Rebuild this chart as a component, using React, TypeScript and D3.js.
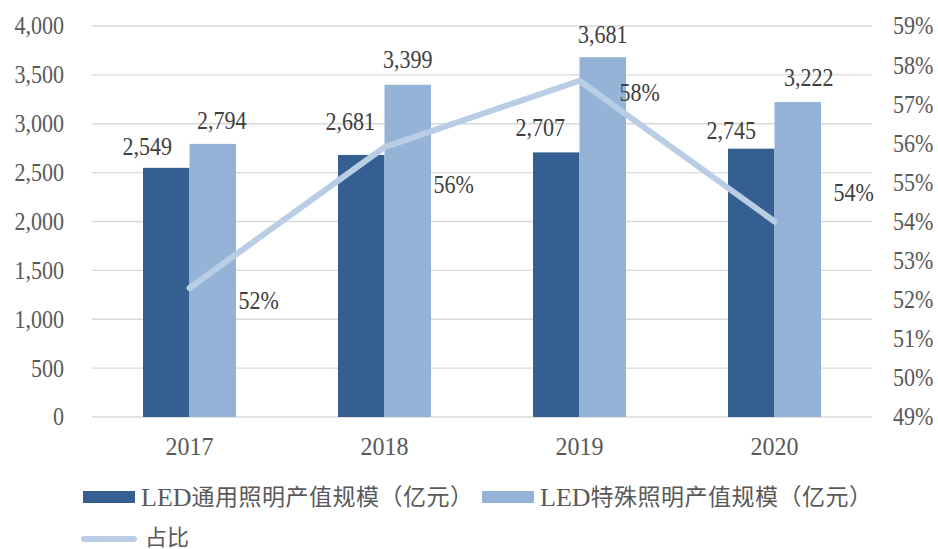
import React from 'react';
import * as d3 from 'd3';

const years = ['2017', '2018', '2019', '2020'];
const generalValues = [2549, 2681, 2707, 2745];
const specialValues = [2794, 3399, 3681, 3222];
const shareValues = [52.3, 55.9, 57.6, 54.0];
const shareLabels = ['52%', '56%', '58%', '54%'];
const leftTicks = [0, 500, 1000, 1500, 2000, 2500, 3000, 3500, 4000];
const rightTicks = [49, 50, 51, 52, 53, 54, 55, 56, 57, 58, 59];
const seriesPrefix = ['LED', 'LED', ''];
const seriesNames = ['通用照明产值规模（亿元）', '特殊照明产值规模（亿元）', '占比'];

// label placement nudges (style, px)
const darkLabelDx = [-19, -11, -16, -20];
const darkLabelUp = [21, 33, 25, 18];
const lightLabelDx = [9, 0, 0, 11];
const lightLabelUp = [23, 25, 23, 24];
const pctLabelDx = [49, 49, 40, 59];
const pctLabelDy = [13, 37, 12, -29];

const W = 938;
const H = 549;
const DARK = '#365f91';
const LIGHT = '#95b3d7';
const LINE = '#b9cde5';
const AXIS_TEXT = '#595959';
const LABEL_TEXT = '#404040';
const FONT = '"Liberation Serif", "Times New Roman", "Noto Sans CJK SC", serif';
const NUM_SIZE = 24.5;
const NUM_SX = 0.9;

type TProps = {
  x: number;
  y: number;
  anchor?: 'start' | 'middle' | 'end';
  sx?: number;
  size?: number;
  fill?: string;
  children: React.ReactNode;
};

function T({ x, y, anchor = 'start', sx = NUM_SX, size = NUM_SIZE, fill = AXIS_TEXT, children }: TProps) {
  return (
    <text
      transform={`translate(${x},${y}) scale(${sx},1)`}
      textAnchor={anchor}
      dominantBaseline="central"
      fontSize={size}
      fill={fill}
    >
      {children}
    </text>
  );
}

function LegendText({ x, y, prefix, name }: { x: number; y: number; prefix: string; name: string }) {
  return (
    <text x={x} y={y} dominantBaseline="central" fill={AXIS_TEXT}>
      {prefix ? <tspan fontSize={26}>{prefix}</tspan> : null}
      <tspan fontSize={23} letterSpacing={0.5}>
        {name}
      </tspan>
    </text>
  );
}

export default function App() {
  const x = d3.scaleBand<string>().domain(years).range([92, 872]);
  const y = d3.scaleLinear().domain([0, 4000]).range([417, 26]);
  const y2 = d3.scaleLinear().domain([49, 59]).range([417, 26]);
  const barW = 46.5;
  const cx = (yr: string) => (x(yr) as number) + x.bandwidth() / 2;
  const fmt = d3.format(',');

  const line = d3
    .line<number>()
    .x((_, i) => cx(years[i]))
    .y((d) => y2(d));

  return (
    <svg
      width={W}
      height={H}
      style={{ position: 'absolute', left: 0, top: 0, background: '#fff' }}
      fontFamily={FONT}
    >
      {/* gridlines */}
      {leftTicks.map((t) => (
        <line key={'g' + t} x1={92} x2={872} y1={y(t)} y2={y(t)} stroke="#d9d9d9" strokeWidth={1.3} />
      ))}
      {/* left axis labels */}
      {leftTicks.map((t) => (
        <T key={'l' + t} x={64} y={y(t)} anchor="end">
          {fmt(t)}
        </T>
      ))}
      {/* right axis labels */}
      {rightTicks.map((t) => (
        <T key={'r' + t} x={893} y={y2(t)} anchor="start">
          {t + '%'}
        </T>
      ))}
      {/* x labels */}
      {years.map((yr) => (
        <T key={'x' + yr} x={cx(yr)} y={446} anchor="middle" sx={0.98}>
          {yr}
        </T>
      ))}
      {/* bars */}
      {years.map((yr, i) => (
        <g key={'b' + yr}>
          <rect x={cx(yr) - barW} y={y(generalValues[i])} width={barW} height={y(0) - y(generalValues[i])} fill={DARK} />
          <rect x={cx(yr)} y={y(specialValues[i])} width={barW} height={y(0) - y(specialValues[i])} fill={LIGHT} />
        </g>
      ))}
      {/* line */}
      <path d={line(shareValues) || ''} fill="none" stroke={LINE} strokeWidth={6} strokeLinecap="round" strokeLinejoin="round" />
      {/* bar labels */}
      {years.map((yr, i) => (
        <g key={'bl' + yr}>
          <T x={cx(yr) - barW / 2 + darkLabelDx[i]} y={y(generalValues[i]) - darkLabelUp[i]} anchor="middle" fill={LABEL_TEXT}>
            {fmt(generalValues[i])}
          </T>
          <T x={cx(yr) + barW / 2 + lightLabelDx[i]} y={y(specialValues[i]) - lightLabelUp[i]} anchor="middle" fill={LABEL_TEXT}>
            {fmt(specialValues[i])}
          </T>
        </g>
      ))}
      {/* percent labels */}
      {years.map((yr, i) => (
        <T key={'p' + yr} x={cx(yr) + pctLabelDx[i]} y={y2(shareValues[i]) + pctLabelDy[i]} anchor="start" fill={LABEL_TEXT}>
          {shareLabels[i]}
        </T>
      ))}
      {/* legend */}
      <rect x={83} y={491} width={52} height={12} fill={DARK} />
      <LegendText x={141} y={497} prefix={seriesPrefix[0]} name={seriesNames[0]} />
      <rect x={482} y={491} width={52} height={12} fill={LIGHT} />
      <LegendText x={540} y={497} prefix={seriesPrefix[1]} name={seriesNames[1]} />
      <line x1={84} x2={134} y1={539} y2={539} stroke={LINE} strokeWidth={6} strokeLinecap="round" />
      <text x={145} y={537} dominantBaseline="central" fontSize={22} fill={AXIS_TEXT}>
        {seriesNames[2]}
      </text>
    </svg>
  );
}
